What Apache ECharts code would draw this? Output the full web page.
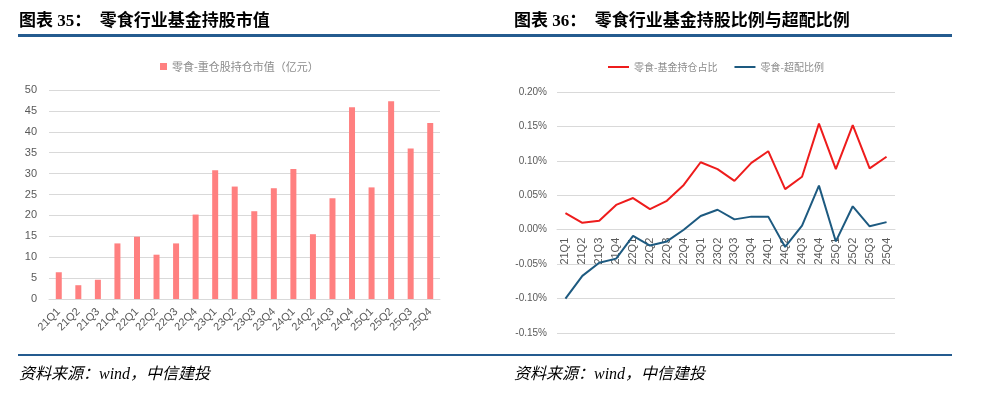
<!DOCTYPE html>
<html>
<head>
<meta charset="utf-8">
<script src="https://cdn.jsdelivr.net/npm/echarts@6/dist/echarts.min.js"></script>
<style>
  html, body { margin: 0; padding: 0; background: #fff; }
  #main { width: 999px; height: 399px; }
</style>
</head>
<body>
<div id="main"></div>
<script>
var quarters = ['21Q1', '21Q2', '21Q3', '21Q4', '22Q1', '22Q2', '22Q3', '22Q4',
  '23Q1', '23Q2', '23Q3', '23Q4', '24Q1', '24Q2', '24Q3', '24Q4',
  '25Q1', '25Q2', '25Q3', '25Q4'];

// 零食-重仓股持仓市值（亿元）
var holdValue = [6.4, 3.3, 4.6, 13.3, 14.9, 10.6, 13.3, 20.2,
  30.8, 26.9, 21.0, 26.5, 31.1, 15.5, 24.1, 45.9,
  26.7, 47.3, 36.0, 42.1];

// 零食-基金持仓占比 (%)
var fundShare = [0.024, 0.010, 0.013, 0.036, 0.046, 0.030, 0.042, 0.065,
  0.098, 0.088, 0.071, 0.097, 0.114, 0.059, 0.077, 0.154,
  0.088, 0.152, 0.089, 0.106];

// 零食-超配比例 (%)
var overweight = [-0.100, -0.067, -0.048, -0.042, -0.009, -0.023, -0.017, 0.000,
  0.020, 0.029, 0.015, 0.019, 0.019, -0.025, 0.006, 0.064,
  -0.017, 0.034, 0.005, 0.011];

var leftTicks = [0, 50, 5];
var rightTicks = [-0.15, 0.20, 0.05];

var chart = echarts.init(document.getElementById('main'));

var titleFont = '"Liberation Serif", "Noto Sans CJK SC", serif';
var axisGrey = '#595959';
var gridGrey = '#d9d9d9';

// right grid: 92 -> 333 px, zero line sits 3 of 7 steps above the bottom
var rightTop = 92, rightBottom = 66;
var rightH = 399 - rightTop - rightBottom;
var zeroOffset = -rightH * 3 / 7;

var option = {
  backgroundColor: '#fff',
  animation: false,
  title: [
    {
      text: '图表 35：  零食行业基金持股市值',
      left: 14, top: 8,
      textStyle: { fontFamily: titleFont, fontSize: 17, fontWeight: 'bold', color: '#000' }
    },
    {
      text: '图表 36：  零食行业基金持股比例与超配比例',
      left: 509, top: 8,
      textStyle: { fontFamily: titleFont, fontSize: 17, fontWeight: 'bold', color: '#000' }
    },
    {
      text: '资料来源：wind，中信建投',
      left: 14, top: 362,
      textStyle: { fontFamily: titleFont, fontSize: 16, fontStyle: 'italic', fontWeight: 'normal', color: '#000' }
    },
    {
      text: '资料来源：wind，中信建投',
      left: 509, top: 362,
      textStyle: { fontFamily: titleFont, fontSize: 16, fontStyle: 'italic', fontWeight: 'normal', color: '#000' }
    }
  ],
  graphic: [
    { type: 'rect', shape: { x: 18, y: 34, width: 934, height: 3 }, style: { fill: '#245b8f' } },
    { type: 'rect', shape: { x: 18, y: 354, width: 934, height: 2 }, style: { fill: '#245b8f' } }
  ],
  legend: [
    {
      data: ['零食-重仓股持仓市值（亿元）'],
      left: 155, top: 56,
      icon: 'rect', itemWidth: 7, itemHeight: 7, itemGap: 4,
      textStyle: { color: '#8c8c8c', fontSize: 11, fontFamily: 'Noto Sans CJK SC' }
    },
    {
      data: ['零食-基金持仓占比', '零食-超配比例'],
      left: 603, top: 57,
      icon: 'rect', itemWidth: 21, itemHeight: 2, itemGap: 17,
      textStyle: { color: '#8c8c8c', fontSize: 10, fontFamily: 'Noto Sans CJK SC' }
    }
  ],
  grid: [
    { left: 49, right: 559, top: 90, bottom: 100 },
    { left: 557, right: 104, top: rightTop, bottom: rightBottom }
  ],
  xAxis: [
    {
      gridIndex: 0, type: 'category', data: quarters,
      axisLine: { lineStyle: { color: gridGrey } },
      axisTick: { show: false },
      axisLabel: { rotate: 45, color: axisGrey, fontSize: 11, margin: 11, interval: 0, fontFamily: 'Liberation Sans' }
    },
    {
      gridIndex: 1, type: 'category', data: quarters,
      position: 'bottom', offset: zeroOffset,
      axisLine: { onZero: false, lineStyle: { color: gridGrey } },
      axisTick: { show: false },
      axisLabel: { rotate: 90, color: axisGrey, fontSize: 11, margin: 8, interval: 0, fontFamily: 'Liberation Sans' }
    }
  ],
  yAxis: [
    {
      gridIndex: 0, type: 'value',
      min: leftTicks[0], max: leftTicks[1], interval: leftTicks[2],
      axisLine: { show: false }, axisTick: { show: false },
      splitLine: { lineStyle: { color: gridGrey, width: 1 } },
      axisLabel: { color: axisGrey, fontSize: 11, margin: 12, fontFamily: 'Liberation Sans' }
    },
    {
      gridIndex: 1, type: 'value',
      min: rightTicks[0], max: rightTicks[1], interval: rightTicks[2],
      axisLine: { show: false }, axisTick: { show: false },
      splitLine: { lineStyle: { color: gridGrey, width: 1 } },
      axisLabel: {
        color: axisGrey, fontSize: 10, margin: 10, fontFamily: 'Liberation Sans',
        formatter: function (v) { return v.toFixed(2) + '%'; }
      }
    }
  ],
  series: [
    {
      name: '零食-重仓股持仓市值（亿元）',
      type: 'bar', xAxisIndex: 0, yAxisIndex: 0,
      data: holdValue, barWidth: 6,
      itemStyle: { color: '#ff8080' }
    },
    {
      name: '零食-基金持仓占比',
      type: 'line', xAxisIndex: 1, yAxisIndex: 1,
      data: fundShare, showSymbol: false, symbol: 'none',
      lineStyle: { color: '#ee1c1c', width: 2 },
      itemStyle: { color: '#ee1c1c' }
    },
    {
      name: '零食-超配比例',
      type: 'line', xAxisIndex: 1, yAxisIndex: 1,
      data: overweight, showSymbol: false, symbol: 'none',
      lineStyle: { color: '#1d5a80', width: 2 },
      itemStyle: { color: '#1d5a80' }
    }
  ]
};

chart.setOption(option);
</script>
</body>
</html>
